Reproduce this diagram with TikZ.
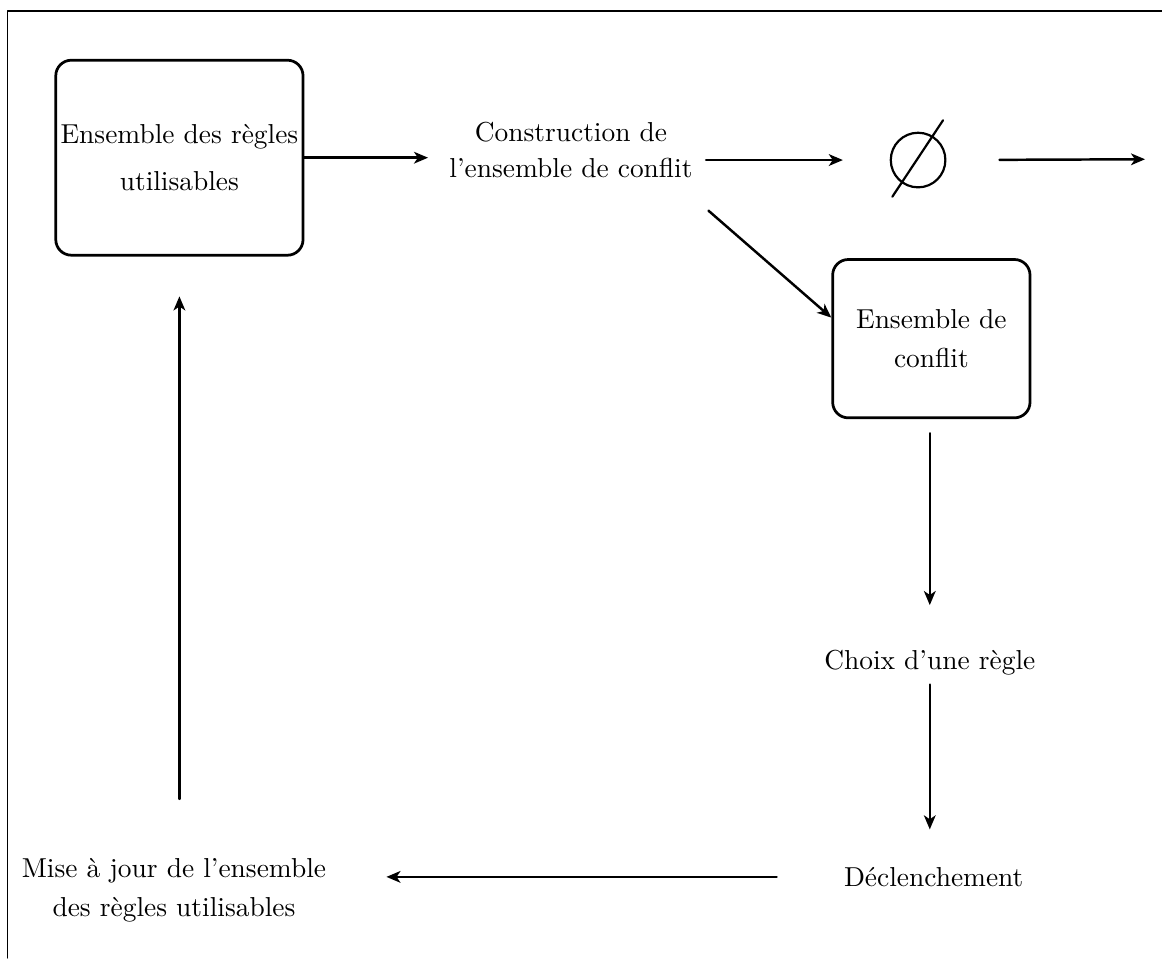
\documentclass[tikz,border=0pt]{standalone}
\usepackage{fontspec}
\usetikzlibrary{positioning,arrows.meta}
\begin{document}
\begin{tikzpicture}[scale=1,line join=round,line cap=round,>={Stealth[length=0.18cm,width=0.15cm,inset=0.05cm]},font=\normalsize,
  boite/.style={draw,line width=1pt,rounded corners=0.2cm,align=center,inner sep=0pt},
  texte/.style={align=center},
  fleche/.style={->,line width=0.9pt}]
\useasboundingbox (0,0) rectangle (14.897,12.282);
% cadre
\draw[line width=0.5pt] (0.10,0)--(0.10,12.14)--(14.897,12.14);
% noeuds
\node[boite,minimum width=3.17cm,minimum height=2.5cm] (regles) at (2.30,10.26) {Ensemble des r\`egles\\[5pt] utilisables};
\node[texte] (constr) at (7.32,10.36) {Construction de\\[1pt] l'ensemble de conflit};
\node[circle,draw,line width=0.8pt,minimum size=0.7cm,inner sep=0pt] (vide) at (11.77,10.23) {};
\draw[line width=0.8pt] ([shift={(-0.33,-0.47)}]vide.center)--([shift={(0.32,0.51)}]vide.center);
\coordinate (sortie) at (14.68,10.24);
\node[boite,minimum width=2.53cm,minimum height=2.03cm] (conflit) at (11.94,7.94) {Ensemble de\\[2pt] conflit};
\node[texte] (choix) at (11.92,3.79) {Choix d'une r\`egle};
\node[texte] (declench) at (11.97,1.04) {D\'eclenchement};
\node[texte] (maj) at (2.23,0.87) {Mise \`a jour de l'ensemble\\[2pt] des r\`egles utilisables};
% fleches
\draw[fleche,shorten >=0.15cm] (regles.east)--(regles.east -| constr.west);
\draw[fleche,shorten <=0.05cm,shorten >=0.6cm] (vide.west -| constr.east)--(vide.west);
\draw[fleche,shorten <=0.68cm] (vide.east)--(sortie);
\draw[fleche] ([shift={(0.08,-0.3)}]constr.south east)--([yshift=0.27cm]conflit.west);
\draw[fleche,shorten <=0.18cm,shorten >=0.45cm] (choix.north |- conflit.south)--(choix.north);
\draw[fleche,shorten >=0.36cm] (choix.south)--(choix.south |- declench.north);
\draw[fleche,shorten <=0.74cm,shorten >=0.65cm] (declench.west)--(declench.west -| maj.east);
\draw[fleche,shorten <=0.64cm,shorten >=0.51cm] (regles.south |- maj.north)--(regles.south);
\end{tikzpicture}
\end{document}
